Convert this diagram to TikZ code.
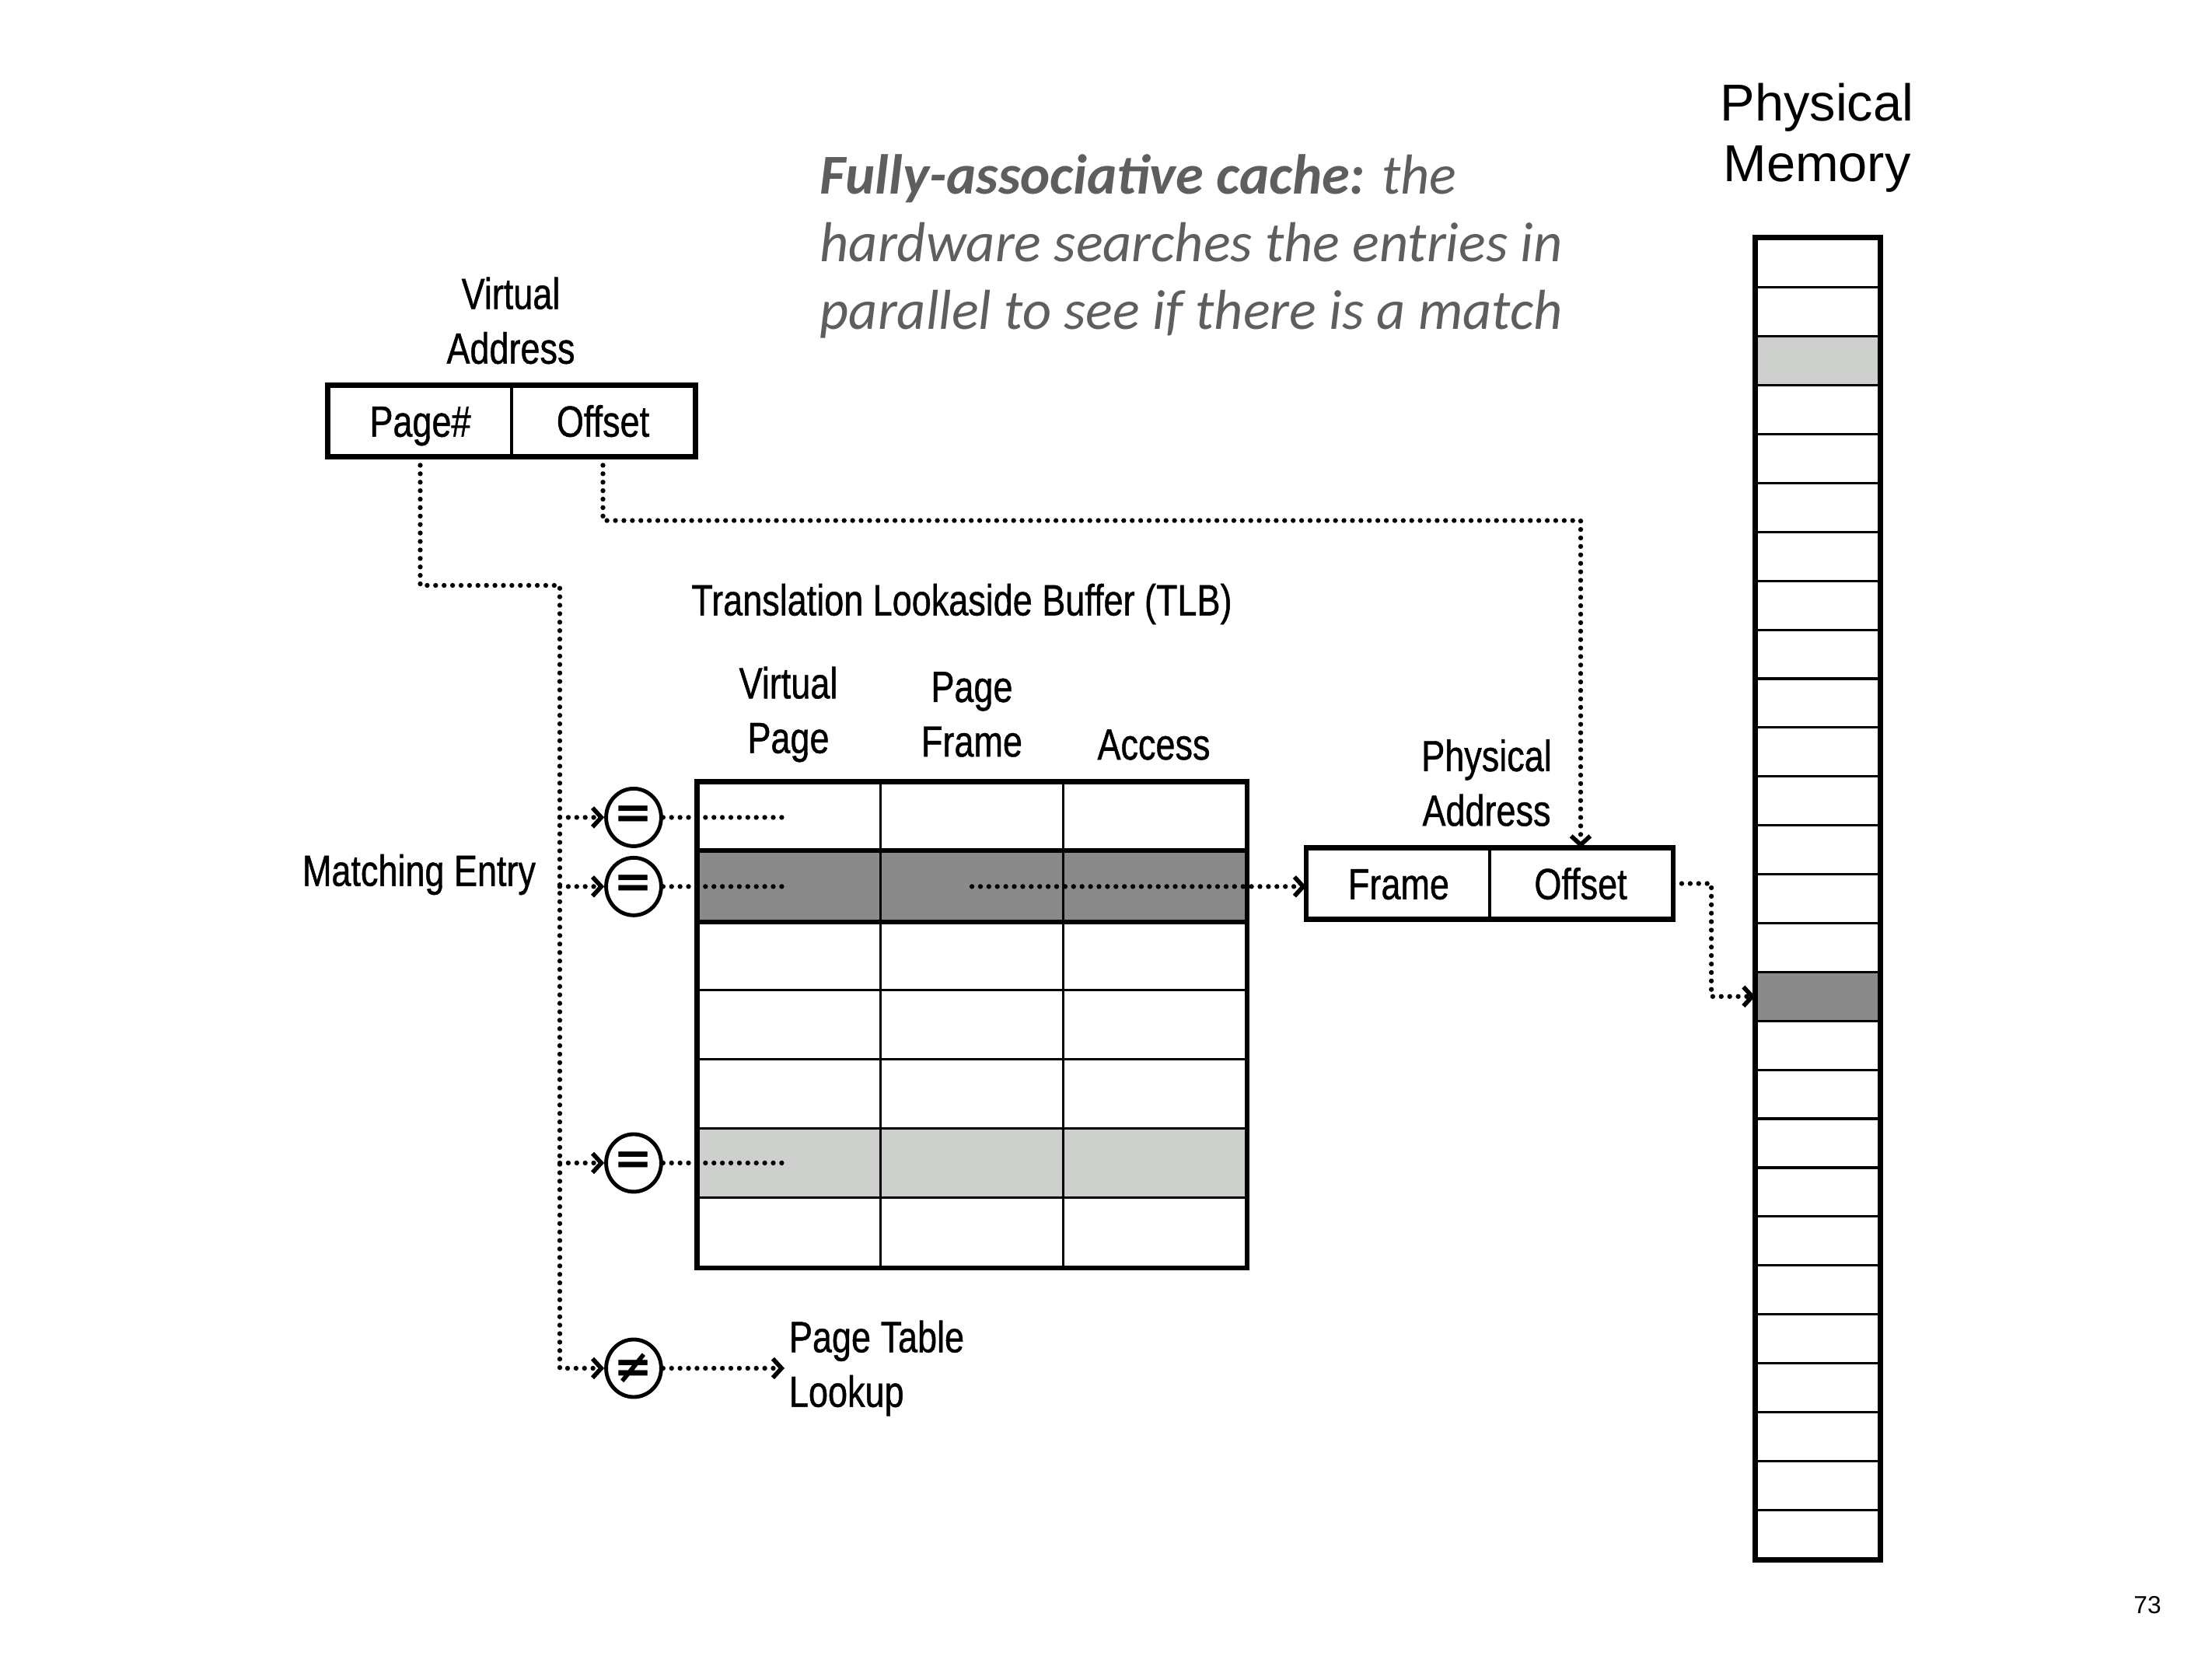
\documentclass[tikz,border=0pt]{standalone}
\usepackage{fontspec}
\setmainfont{Liberation Sans}
\newfontfamily\condfont{Liberation Sans}[FakeStretch=0.8, FakeBold=0.8]
\newfontfamily\notefont{Carlito}
\newfontfamily\symfont{DejaVu Sans}
\usetikzlibrary{arrows.meta,shapes.geometric}

\definecolor{hitgray}{HTML}{8A8A8A}
\definecolor{softgray}{HTML}{CDCFCC}
\definecolor{notegray}{HTML}{5E5E5E}

\begin{document}
\begin{tikzpicture}[
    txt/.style={font=\condfont\fontsize{16}{20}\selectfont, align=center},
    field/.style={draw, line width=0.9pt, minimum width=2.35cm,
                  minimum height=0.89cm, inner sep=0pt, txt,
                  text height=11.5pt, text depth=0pt},
    cell/.style={draw, line width=0.9pt, minimum width=2.347cm,
                 minimum height=0.889cm, inner sep=0pt},
    memrow/.style={draw, line width=0.9pt, minimum width=1.58cm,
                   minimum height=0.6289cm, inner sep=0pt},
    outline/.style={line width=1.7pt},
    cmp/.style={ellipse, draw, line width=1.4pt, minimum width=0.66cm,
                minimum height=0.74cm, inner sep=0pt,
                font=\symfont\bfseries\fontsize{17}{17}\selectfont},
    dots/.style={line width=1.8pt, line cap=round, dash pattern=on 0pt off 3.1pt},
    flow/.style={dots, -{Straight Barb[length=3.2pt, width=7pt, line width=1.6pt]}},
]
    \useasboundingbox[fill=white] (0,0) rectangle (28.45,-21.34);

    \node[anchor=west, inner sep=0pt, align=left, text=notegray,
          font=\notefont\itshape\fontsize{20.6}{24.7}\selectfont] (note) at (10.54,-3.17)
        {{\bfseries Fully-associative cache:} the\\hardware searches the entries in\\parallel to see if there is a match};

    % virtual address
    \node[txt] (vlabel) at (6.57,-4.125) {Virtual\\Address};
    \node[field] (vpage) at (5.405,-5.415) {Page\#};
    \node[field] (voff) at (7.755,-5.415) {Offset};
    \draw[outline] (vpage.north west) rectangle (voff.south east);

    % TLB
    \node[txt] (tlblabel) at (12.37,-7.77) {Translation Lookaside Buffer (TLB)};
    \node[txt] (hvpage) at (10.14,-9.19) {Virtual\\Page};
    \node[txt] (hframe) at (12.50,-9.19) {Page\\Frame};
    \node[txt] (haccess) at (14.84,-9.58) {Access};
    \foreach \r in {1,...,7} {
        \ifnum\r=2 \def\rowfill{hitgray}\else\ifnum\r=6 \def\rowfill{softgray}\else\def\rowfill{white}\fi\fi
        \foreach \c in {1,2,3}
            \node[cell, fill=\rowfill] (t\r\c) at ({8.98+(\c-0.5)*2.347},{-10.07-(\r-0.5)*0.889}) {};
    }
    \draw[outline] (t21.north west) rectangle (t23.south east);
    \draw[outline] (t11.north west) rectangle (t73.south east);

    \node[txt] (match) at (5.39,-11.25) {Matching Entry};
    \node[cmp] (eq1) at (8.15,0 |- t11) {=};
    \node[cmp] (eq2) at (8.15,0 |- t21) {=};
    \node[cmp] (eq3) at (8.15,0 |- t61) {=};
    \node[cmp] (neq) at (8.15,-17.60) {≠};
    \node[txt, anchor=west, align=left, inner sep=1.5pt] (lookup) at (10.09,-17.60) {Page Table\\Lookup};

    % physical address
    \node[txt] (plabel) at (19.12,-10.07) {Physical\\Address};
    \node[field] (pframe) at (17.99,-11.365) {Frame};
    \node[field] (poff) at (20.33,-11.365) {Offset};
    \draw[outline] (pframe.north west) rectangle (poff.south east);

    % physical memory
    \node[font=\fontsize{19}{22.2}\selectfont, align=center] (memlabel) at (23.37,-1.77) {Physical\\Memory};
    \foreach \i in {1,...,27} {
        \ifnum\i=3 \def\rowfill{softgray}\else\ifnum\i=16 \def\rowfill{hitgray}\else\def\rowfill{white}\fi\fi
        \node[memrow, fill=\rowfill] (m\i) at (23.38,{-3.07-(\i-0.5)*0.6289}) {};
    }
    \draw[outline] (m1.north west) rectangle (m27.south east);

    \coordinate (bus) at (7.20,-7.53);
    \draw[flow] (vpage.south) |- (bus) |- (neq.west);
    \foreach \n in {eq1,eq2,eq3}
        \draw[flow] (bus |- \n.west) -- (\n.west);
    \foreach \n/\t in {eq1/t11,eq2/t21,eq3/t61}
        \draw[dots] (\n.east) -- (\t.center);
    \draw[flow] (neq.east) -- (lookup.west);
    \draw[flow] (t22.center) -- (t22.center -| pframe.west);
    \draw[flow] (voff.south) -- ++(0,-0.82) -| (poff.north);
    \draw[flow] (poff.east) -- ++(0.49,0) |- (m16.west);

    \node[font=\fontsize{9}{9}\selectfont] (pnum) at (27.62,-20.65) {73};
\end{tikzpicture}
\end{document}
